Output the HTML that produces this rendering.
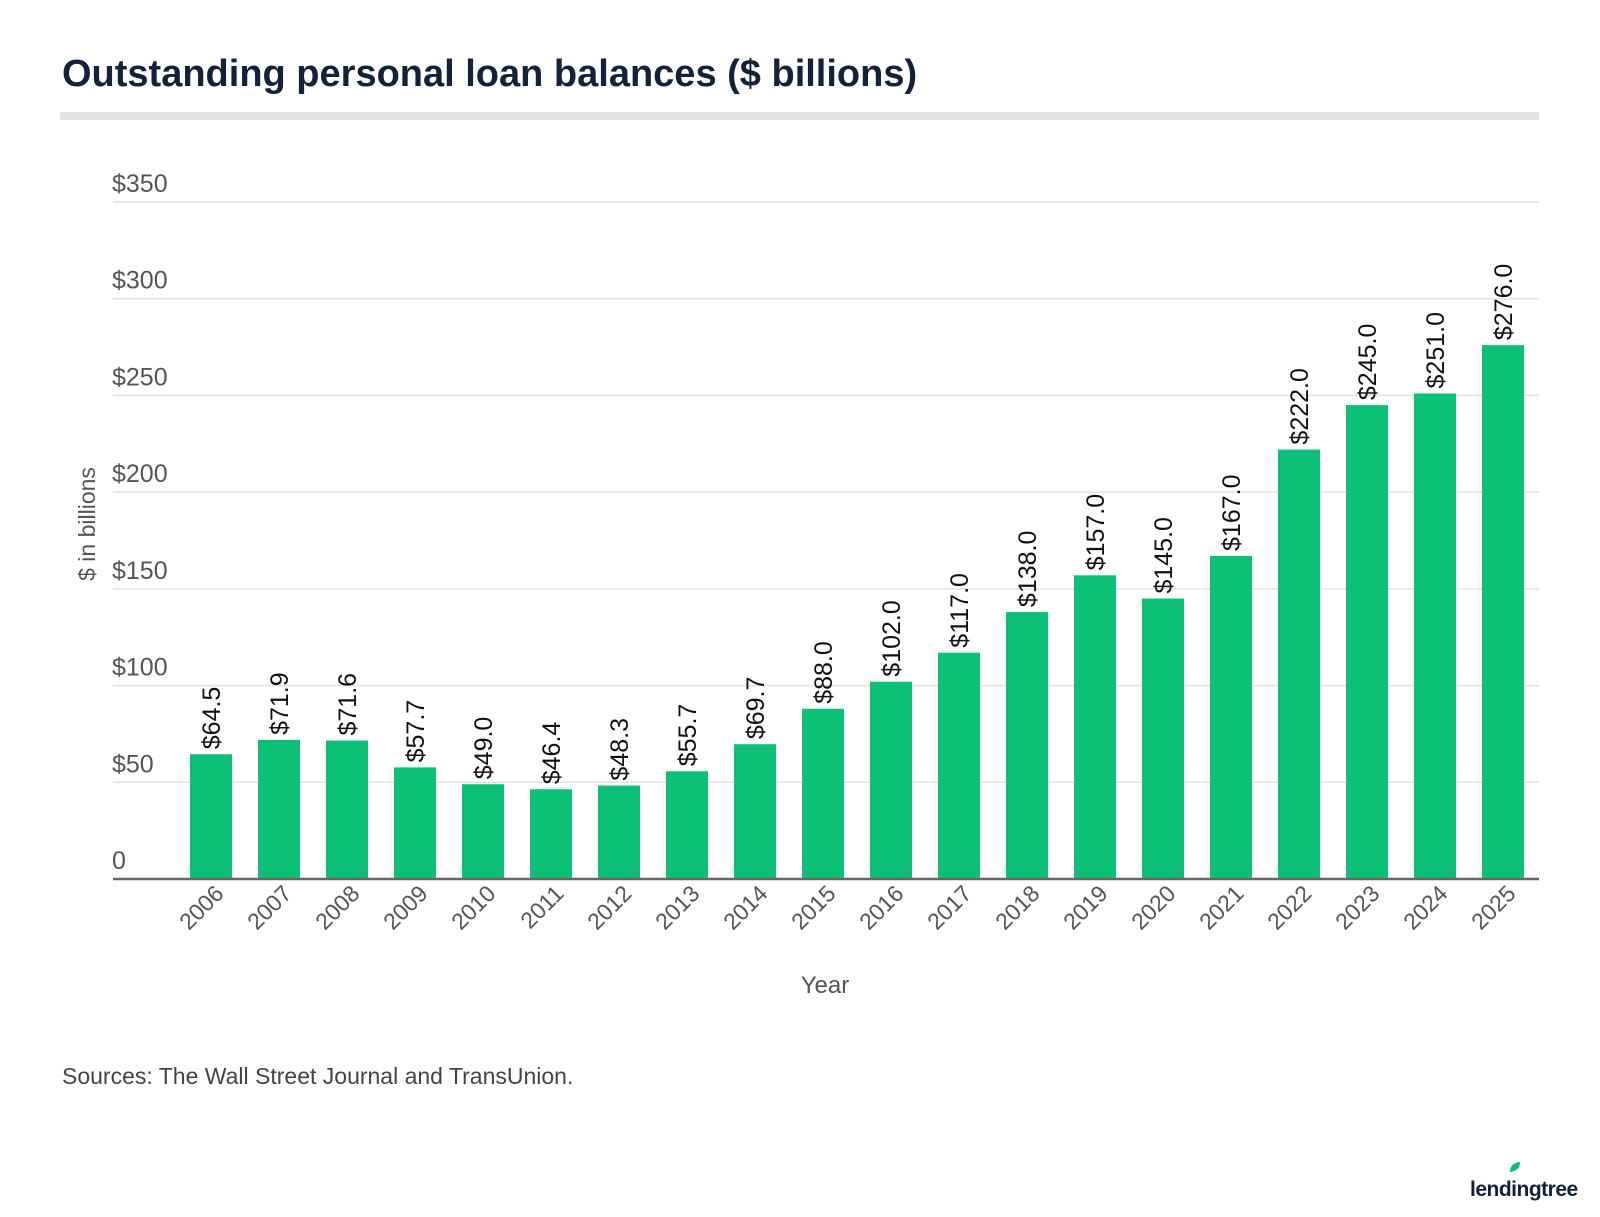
<!DOCTYPE html>
<html><head><meta charset="utf-8"><style>
body{margin:0;background:#fff;width:1600px;height:1212px;overflow:hidden;font-family:"Liberation Sans",sans-serif}
</style></head><body>
<svg width="1600" height="1212" id="svg">
<text x="62" y="86" font-size="38" font-weight="bold" fill="#13223a">Outstanding personal loan balances ($ billions)</text>
<rect x="60" y="112" width="1479" height="8" fill="#e4e4e4"/>
<g id="grid"></g>
<g id="bars"></g>
<g id="xt"></g>
<text x="0" y="0" transform="translate(95,524) rotate(-90)" text-anchor="middle" font-size="23" fill="#555">$ in billions</text>
<text x="825" y="993" text-anchor="middle" font-size="24" fill="#555">Year</text>
<text x="62" y="1084" font-size="23" fill="#444">Sources: The Wall Street Journal and TransUnion.</text>
<g>
<path d="M1510 1172 q0-9 10-10 q0 9-10 10z" fill="#0bbf74"/>
<text x="1470" y="1196" font-size="21" font-weight="bold" fill="#13223a" letter-spacing="-0.5">lendingtree</text>
</g>
</svg>
<script>
const years=["2006","2007","2008","2009","2010","2011","2012","2013","2014","2015","2016","2017","2018","2019","2020","2021","2022","2023","2024","2025"];
const values=[64.5,71.9,71.6,57.7,49.0,46.4,48.3,55.7,69.7,88.0,102.0,117.0,138.0,157.0,145.0,167.0,222.0,245.0,251.0,276.0];
const yTicks=[0,50,100,150,200,250,300,350];
const yTickLabels=["0","$50","$100","$150","$200","$250","$300","$350"];
const NS="http://www.w3.org/2000/svg";
const y0=879,yTop=202,xL=113,xR=1539;
const y=v=>y0-(v/350)*(y0-yTop);
const x=i=>211+i*(1503-211)/(years.length-1);
function mk(t,a,p){const e=document.createElementNS(NS,t);for(const k in a)e.setAttribute(k,a[k]);p.appendChild(e);return e;}
const grid=document.getElementById('grid'),bars=document.getElementById('bars'),xt=document.getElementById('xt');
yTicks.forEach((v,i)=>{
 if(i>0){const l=mk('line',{x1:xL,x2:xR,y1:y(v),y2:y(v),stroke:'#e2e2e2','stroke-width':1.5},grid);
 
 }
 const t=mk('text',{x:112,y:y(v)-10,'font-size':25,fill:'#555'},grid);
 t.textContent=yTickLabels[i];
 
 
});
values.forEach((v,i)=>{
 const r=mk('rect',{x:x(i)-21,y:y(v),width:42,height:y0-y(v),fill:'#0cc175'},bars);
 
 
 const t=mk('text',{transform:`translate(${x(i)+9},${y(v)-5}) rotate(-90)`,'font-size':25,fill:'#111'},bars);
 t.textContent='$'+v.toFixed(1);
 
 
 const k=mk('text',{transform:`translate(${x(i)+14},${y0+16}) rotate(-45)`,'text-anchor':'end','font-size':23,fill:'#555'},xt);
 k.textContent=years[i];
 
 
});
const ax=mk('line',{x1:xL,x2:xR,y1:y0,y2:y0,stroke:'#666','stroke-width':2.5},bars);


</script>
</body></html>
